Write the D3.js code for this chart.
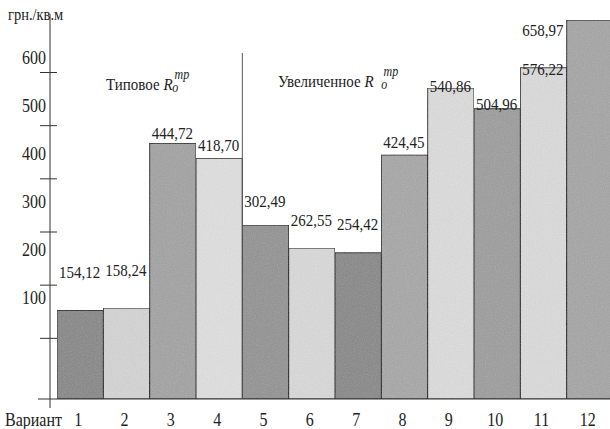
<!DOCTYPE html>
<html>
<head>
<meta charset="utf-8">
<script src="https://cdn.jsdelivr.net/npm/d3@7"></script>
<style>
  body { margin: 0; background: #fff; }
  text { font-family: "Liberation Serif", "DejaVu Serif", serif; fill: #222; }
</style>
</head>
<body>
<script>
// variants and cost per m2 (grn./kv.m)
const variants = ["1", "2", "3", "4", "5", "6", "7", "8", "9", "10", "11", "12"];
const costs = [154.12, 158.24, 444.72, 418.70, 302.49, 262.55, 254.42, 424.45, 540.86, 504.96, 576.22, 658.97];
const axisTicks = [100, 200, 300, 400, 500, 600];
const groupNames = ["Типовое", "Увеличенное"];
const groupStarts = ["1", "5"];

// grey shades of the scanned bars
const shades = ["#8d8d8d", "#d2d2d2", "#a5a5a5", "#dcdcdc", "#979797", "#d6d6d6",
                "#8e8e8e", "#a9a9a9", "#d9d9d9", "#a0a0a0", "#d8d8d8", "#a7a7a7"];

const w = 610, h = 429;
const SY = 1.15; // scan is stretched vertically a bit
const fmt = d3.formatLocale({decimal: ",", thousands: " ", grouping: [3], currency: ["", ""]}).format(".2f");

const svg = d3.select("body").append("svg")
  .attr("width", w)
  .attr("height", h);

// light grain like the printed halftone
const f = svg.append("defs").append("filter").attr("id", "grain")
  .attr("x", 0).attr("y", 0).attr("width", 1).attr("height", 1);
f.append("feTurbulence").attr("type", "fractalNoise").attr("baseFrequency", 0.9)
  .attr("numOctaves", 2).attr("seed", 3).attr("result", "n");
f.append("feColorMatrix").attr("in", "n").attr("type", "saturate").attr("values", 0).attr("result", "g");
f.append("feComposite").attr("in", "SourceGraphic").attr("in2", "g").attr("operator", "arithmetic")
  .attr("k1", 0).attr("k2", 1).attr("k3", 0.16).attr("k4", -0.04).attr("result", "m");
f.append("feComposite").attr("in", "m").attr("in2", "SourceGraphic").attr("operator", "in");

const x = d3.scaleBand().domain(variants).range([57, 613]).padding(0);
const y = d3.scaleLinear().domain([0, 694]).range([399, 0]);       // bars
const yAxis = d3.scaleLinear().domain([0, 600]).range([391, 72]);  // tick marks
const yText = d3.scaleLinear().domain([0, 700]).range([352, 16]);  // printed numbers

function label(sel, tx, ty, s) {
  return sel.append("text")
    .attr("transform", "translate(" + tx + "," + ty + ") scale(1," + SY + ")")
    .attr("font-size", 15)
    .text(s);
}

// bars
svg.selectAll("rect.bar")
  .data(costs)
  .enter()
  .append("rect")
  .attr("class", "bar")
  .attr("x", (d, i) => x(variants[i]))
  .attr("y", (d) => y(d))
  .attr("width", x.bandwidth())
  .attr("height", (d) => y(0) - y(d))
  .attr("fill", (d, i) => shades[i])
  .attr("stroke", "#333")
  .attr("stroke-width", 1)
  .attr("filter", "url(#grain)");

// value labels, top-left of each bar (last one sits beside the bar)
costs.forEach((d, i) => {
  const last = i === costs.length - 1;
  const lx = x(variants[i]) + 2 - (last ? x.bandwidth() : 0);
  label(svg, lx, yText(d), fmt(d));
});

// y axis line, baseline, tick marks
svg.append("line").attr("x1", 50).attr("x2", 50).attr("y1", 14).attr("y2", 408)
  .attr("stroke", "#333").attr("stroke-width", 1);
svg.append("line").attr("x1", 38).attr("x2", w).attr("y1", y(0)).attr("y2", y(0))
  .attr("stroke", "#333").attr("stroke-width", 1);

const ax = svg.append("g")
  .attr("transform", "translate(57,0)")
  .call(d3.axisLeft(yAxis).tickValues(axisTicks).tickSize(17).tickFormat(""));
ax.select(".domain").remove();
ax.selectAll(".tick line").attr("stroke", "#333");

axisTicks.forEach((t) => {
  label(svg, 46, yText(t), t).attr("text-anchor", "end").attr("font-size", 16);
});

label(svg, 8, 20, "грн./кв.м").attr("font-size", 14.5);

// divider between the two groups
const xDiv = x(groupStarts[1]);
svg.append("line").attr("x1", xDiv).attr("x2", xDiv).attr("y1", 53).attr("y2", y(0))
  .attr("stroke", "#555").attr("stroke-width", 1);

// group titles with R_o^mp
function groupTitle(tx, ty, name, gap) {
  const t = label(svg, tx, ty, null).attr("font-size", 15);
  t.append("tspan").text(name + " ");
  t.append("tspan").attr("font-style", "italic").text("R");
  t.append("tspan").attr("font-style", "italic").attr("font-size", 12)
    .attr("dx", gap).attr("dy", -10).text("mp");
  t.append("tspan").attr("font-style", "italic").attr("font-size", 12)
    .attr("dx", -17).attr("dy", 12).text("o");
}
groupTitle(106, 90, groupNames[0], 2);
groupTitle(278, 87, groupNames[1], 10);

// category axis
label(svg, 5, 426, "Вариант").attr("font-size", 16);
variants.forEach((v) => {
  label(svg, x(v) + x.bandwidth() / 2 - 2, 426, v).attr("text-anchor", "middle").attr("font-size", 16);
});
</script>
</body>
</html>
